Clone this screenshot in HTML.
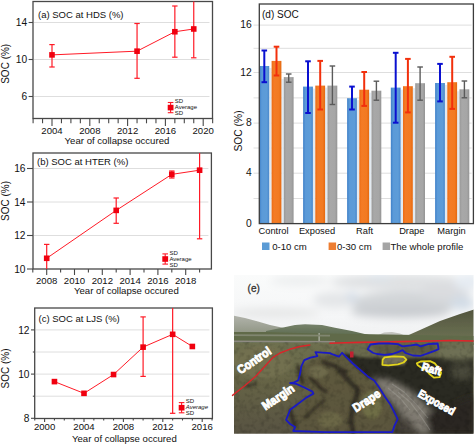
<!DOCTYPE html>
<html><head><meta charset="utf-8"><style>
html,body{margin:0;padding:0;background:#fff;}
svg{display:block;}
text{font-family:"Liberation Sans",sans-serif;}
</style></head><body>
<svg width="475" height="444" viewBox="0 0 475 444" font-family="Liberation Sans, sans-serif">
<rect width="475" height="444" fill="#fff"/>
<line x1="34.00" y1="22.50" x2="209.50" y2="22.50" stroke="#dedede" stroke-width="1" />
<line x1="34.00" y1="59.50" x2="209.50" y2="59.50" stroke="#dedede" stroke-width="1" />
<line x1="34.00" y1="96.50" x2="209.50" y2="96.50" stroke="#dedede" stroke-width="1" />
<rect x="33.00" y="1.50" width="179.50" height="117.00" fill="none" stroke="#484848" stroke-width="1.3"/>
<line x1="28.60" y1="22.50" x2="33.00" y2="22.50" stroke="#484848" stroke-width="1.1" />
<line x1="28.60" y1="59.50" x2="33.00" y2="59.50" stroke="#484848" stroke-width="1.1" />
<line x1="28.60" y1="96.50" x2="33.00" y2="96.50" stroke="#484848" stroke-width="1.1" />
<text x="27.10" y="26.10" font-size="10.2" text-anchor="end" fill="#111" >14</text>
<text x="27.10" y="63.10" font-size="10.2" text-anchor="end" fill="#111" >10</text>
<text x="27.10" y="100.10" font-size="10.2" text-anchor="end" fill="#111" >6</text>
<line x1="52.00" y1="118.50" x2="52.00" y2="126.00" stroke="#484848" stroke-width="1.1" />
<line x1="89.80" y1="118.50" x2="89.80" y2="126.00" stroke="#484848" stroke-width="1.1" />
<line x1="127.60" y1="118.50" x2="127.60" y2="126.00" stroke="#484848" stroke-width="1.1" />
<line x1="165.40" y1="118.50" x2="165.40" y2="126.00" stroke="#484848" stroke-width="1.1" />
<line x1="203.20" y1="118.50" x2="203.20" y2="126.00" stroke="#484848" stroke-width="1.1" />
<line x1="33.10" y1="118.50" x2="33.10" y2="123.30" stroke="#484848" stroke-width="1.1" />
<line x1="42.55" y1="118.50" x2="42.55" y2="123.30" stroke="#484848" stroke-width="1.1" />
<line x1="61.45" y1="118.50" x2="61.45" y2="123.30" stroke="#484848" stroke-width="1.1" />
<line x1="70.90" y1="118.50" x2="70.90" y2="123.30" stroke="#484848" stroke-width="1.1" />
<line x1="80.35" y1="118.50" x2="80.35" y2="123.30" stroke="#484848" stroke-width="1.1" />
<line x1="99.25" y1="118.50" x2="99.25" y2="123.30" stroke="#484848" stroke-width="1.1" />
<line x1="108.70" y1="118.50" x2="108.70" y2="123.30" stroke="#484848" stroke-width="1.1" />
<line x1="118.15" y1="118.50" x2="118.15" y2="123.30" stroke="#484848" stroke-width="1.1" />
<line x1="137.05" y1="118.50" x2="137.05" y2="123.30" stroke="#484848" stroke-width="1.1" />
<line x1="146.50" y1="118.50" x2="146.50" y2="123.30" stroke="#484848" stroke-width="1.1" />
<line x1="155.95" y1="118.50" x2="155.95" y2="123.30" stroke="#484848" stroke-width="1.1" />
<line x1="174.85" y1="118.50" x2="174.85" y2="123.30" stroke="#484848" stroke-width="1.1" />
<line x1="184.30" y1="118.50" x2="184.30" y2="123.30" stroke="#484848" stroke-width="1.1" />
<line x1="193.75" y1="118.50" x2="193.75" y2="123.30" stroke="#484848" stroke-width="1.1" />
<line x1="212.65" y1="118.50" x2="212.65" y2="123.30" stroke="#484848" stroke-width="1.1" />
<text x="52.00" y="133.80" font-size="9.6" text-anchor="middle" fill="#111" >2004</text>
<text x="89.80" y="133.80" font-size="9.6" text-anchor="middle" fill="#111" >2008</text>
<text x="127.60" y="133.80" font-size="9.6" text-anchor="middle" fill="#111" >2012</text>
<text x="165.40" y="133.80" font-size="9.6" text-anchor="middle" fill="#111" >2016</text>
<text x="203.20" y="133.80" font-size="9.6" text-anchor="middle" fill="#111" >2020</text>
<polyline points="52.00,54.88 137.05,51.17 174.85,31.75 193.75,28.97" fill="none" stroke="#ff1a26" stroke-width="1"/>
<line x1="52.00" y1="44.60" x2="52.00" y2="67.00" stroke="#ff1a26" stroke-width="1.2" />
<line x1="49.30" y1="44.60" x2="54.70" y2="44.60" stroke="#ff1a26" stroke-width="1.2" />
<line x1="49.30" y1="67.00" x2="54.70" y2="67.00" stroke="#ff1a26" stroke-width="1.2" />
<line x1="137.05" y1="23.50" x2="137.05" y2="78.30" stroke="#ff1a26" stroke-width="1.2" />
<line x1="134.35" y1="23.50" x2="139.75" y2="23.50" stroke="#ff1a26" stroke-width="1.2" />
<line x1="134.35" y1="78.30" x2="139.75" y2="78.30" stroke="#ff1a26" stroke-width="1.2" />
<line x1="174.85" y1="6.00" x2="174.85" y2="57.20" stroke="#ff1a26" stroke-width="1.2" />
<line x1="172.15" y1="6.00" x2="177.55" y2="6.00" stroke="#ff1a26" stroke-width="1.2" />
<line x1="172.15" y1="57.20" x2="177.55" y2="57.20" stroke="#ff1a26" stroke-width="1.2" />
<line x1="193.75" y1="1.50" x2="193.75" y2="57.80" stroke="#ff1a26" stroke-width="1.2" />
<line x1="191.05" y1="57.80" x2="196.45" y2="57.80" stroke="#ff1a26" stroke-width="1.2" />
<rect x="49.20" y="52.08" width="5.6" height="5.6" fill="#f0000f"/>
<rect x="134.25" y="48.38" width="5.6" height="5.6" fill="#f0000f"/>
<rect x="172.05" y="28.95" width="5.6" height="5.6" fill="#f0000f"/>
<rect x="190.95" y="26.17" width="5.6" height="5.6" fill="#f0000f"/>
<text x="38.00" y="17.50" font-size="9.5" text-anchor="start" fill="#111" >(a) SOC at HDS (%)</text>
<line x1="170.60" y1="102.50" x2="170.60" y2="112.70" stroke="#ff1a26" stroke-width="1.1" />
<line x1="167.80" y1="102.50" x2="173.40" y2="102.50" stroke="#ff1a26" stroke-width="1.1" />
<line x1="167.80" y1="112.70" x2="173.40" y2="112.70" stroke="#ff1a26" stroke-width="1.1" />
<rect x="167.70" y="104.80" width="5.8" height="5.6" fill="#f0000f"/>
<text x="174.80" y="103.20" font-size="6" text-anchor="start" fill="#111" >SD</text>
<text x="174.80" y="109.30" font-size="6" text-anchor="start" fill="#111" >Average</text>
<text x="174.80" y="115.20" font-size="6" text-anchor="start" fill="#111" >SD</text>
<text x="0" y="0" font-size="10" text-anchor="middle" fill="#111" transform="translate(9.20,63.80) rotate(-90)">SOC (%)</text>
<text x="64.60" y="144.00" font-size="9.6" text-anchor="start" fill="#111" >Year of collapse occured</text>
<line x1="34.00" y1="168.50" x2="208.40" y2="168.50" stroke="#dedede" stroke-width="1" />
<line x1="34.00" y1="202.00" x2="208.40" y2="202.00" stroke="#dedede" stroke-width="1" />
<line x1="34.00" y1="235.50" x2="208.40" y2="235.50" stroke="#dedede" stroke-width="1" />
<rect x="33.00" y="153.00" width="178.40" height="116.00" fill="none" stroke="#484848" stroke-width="1.3"/>
<line x1="27.00" y1="168.50" x2="33.00" y2="168.50" stroke="#484848" stroke-width="1.1" />
<line x1="27.00" y1="202.00" x2="33.00" y2="202.00" stroke="#484848" stroke-width="1.1" />
<line x1="27.00" y1="235.50" x2="33.00" y2="235.50" stroke="#484848" stroke-width="1.1" />
<line x1="27.00" y1="269.00" x2="33.00" y2="269.00" stroke="#484848" stroke-width="1.1" />
<text x="25.50" y="172.10" font-size="10.2" text-anchor="end" fill="#111" >16</text>
<text x="25.50" y="205.60" font-size="10.2" text-anchor="end" fill="#111" >14</text>
<text x="25.50" y="239.10" font-size="10.2" text-anchor="end" fill="#111" >12</text>
<text x="25.50" y="272.60" font-size="10.2" text-anchor="end" fill="#111" >10</text>
<line x1="46.70" y1="269.00" x2="46.70" y2="275.00" stroke="#484848" stroke-width="1.1" />
<line x1="74.50" y1="269.00" x2="74.50" y2="275.00" stroke="#484848" stroke-width="1.1" />
<line x1="102.30" y1="269.00" x2="102.30" y2="275.00" stroke="#484848" stroke-width="1.1" />
<line x1="130.10" y1="269.00" x2="130.10" y2="275.00" stroke="#484848" stroke-width="1.1" />
<line x1="157.90" y1="269.00" x2="157.90" y2="275.00" stroke="#484848" stroke-width="1.1" />
<line x1="185.70" y1="269.00" x2="185.70" y2="275.00" stroke="#484848" stroke-width="1.1" />
<line x1="32.80" y1="269.00" x2="32.80" y2="272.40" stroke="#484848" stroke-width="1.1" />
<line x1="60.60" y1="269.00" x2="60.60" y2="272.40" stroke="#484848" stroke-width="1.1" />
<line x1="88.40" y1="269.00" x2="88.40" y2="272.40" stroke="#484848" stroke-width="1.1" />
<line x1="116.20" y1="269.00" x2="116.20" y2="272.40" stroke="#484848" stroke-width="1.1" />
<line x1="144.00" y1="269.00" x2="144.00" y2="272.40" stroke="#484848" stroke-width="1.1" />
<line x1="171.80" y1="269.00" x2="171.80" y2="272.40" stroke="#484848" stroke-width="1.1" />
<line x1="199.60" y1="269.00" x2="199.60" y2="272.40" stroke="#484848" stroke-width="1.1" />
<text x="46.70" y="284.30" font-size="9.6" text-anchor="middle" fill="#111" >2008</text>
<text x="74.50" y="284.30" font-size="9.6" text-anchor="middle" fill="#111" >2010</text>
<text x="102.30" y="284.30" font-size="9.6" text-anchor="middle" fill="#111" >2012</text>
<text x="130.10" y="284.30" font-size="9.6" text-anchor="middle" fill="#111" >2014</text>
<text x="157.90" y="284.30" font-size="9.6" text-anchor="middle" fill="#111" >2016</text>
<text x="185.70" y="284.30" font-size="9.6" text-anchor="middle" fill="#111" >2018</text>
<polyline points="46.70,258.28 116.20,210.38 171.80,174.36 199.60,170.18" fill="none" stroke="#ff1a26" stroke-width="1"/>
<line x1="46.70" y1="244.40" x2="46.70" y2="269.00" stroke="#ff1a26" stroke-width="1.2" />
<line x1="44.00" y1="244.40" x2="49.40" y2="244.40" stroke="#ff1a26" stroke-width="1.2" />
<line x1="116.20" y1="198.00" x2="116.20" y2="223.30" stroke="#ff1a26" stroke-width="1.2" />
<line x1="113.50" y1="198.00" x2="118.90" y2="198.00" stroke="#ff1a26" stroke-width="1.2" />
<line x1="113.50" y1="223.30" x2="118.90" y2="223.30" stroke="#ff1a26" stroke-width="1.2" />
<line x1="171.80" y1="171.00" x2="171.80" y2="178.00" stroke="#ff1a26" stroke-width="1.2" />
<line x1="169.10" y1="171.00" x2="174.50" y2="171.00" stroke="#ff1a26" stroke-width="1.2" />
<line x1="169.10" y1="178.00" x2="174.50" y2="178.00" stroke="#ff1a26" stroke-width="1.2" />
<line x1="199.60" y1="153.00" x2="199.60" y2="238.80" stroke="#ff1a26" stroke-width="1.2" />
<line x1="196.90" y1="238.80" x2="202.30" y2="238.80" stroke="#ff1a26" stroke-width="1.2" />
<rect x="43.90" y="255.48" width="5.6" height="5.6" fill="#f0000f"/>
<rect x="113.40" y="207.57" width="5.6" height="5.6" fill="#f0000f"/>
<rect x="169.00" y="171.56" width="5.6" height="5.6" fill="#f0000f"/>
<rect x="196.80" y="167.38" width="5.6" height="5.6" fill="#f0000f"/>
<text x="37.00" y="165.00" font-size="9.5" text-anchor="start" fill="#111" >(b) SOC at HTER (%)</text>
<line x1="165.20" y1="253.90" x2="165.20" y2="264.10" stroke="#ff1a26" stroke-width="1.1" />
<line x1="162.40" y1="253.90" x2="168.00" y2="253.90" stroke="#ff1a26" stroke-width="1.1" />
<line x1="162.40" y1="264.10" x2="168.00" y2="264.10" stroke="#ff1a26" stroke-width="1.1" />
<rect x="162.30" y="256.20" width="5.8" height="5.6" fill="#f0000f"/>
<text x="169.40" y="254.60" font-size="6" text-anchor="start" fill="#111" >SD</text>
<text x="169.40" y="260.70" font-size="6" text-anchor="start" fill="#111" >Average</text>
<text x="169.40" y="266.60" font-size="6" text-anchor="start" fill="#111" >SD</text>
<text x="0" y="0" font-size="10" text-anchor="middle" fill="#111" transform="translate(9.20,201.00) rotate(-90)">SOC (%)</text>
<text x="74.00" y="294.00" font-size="9.6" text-anchor="start" fill="#111" >Year of collapse occured</text>
<line x1="35.70" y1="329.90" x2="209.40" y2="329.90" stroke="#dedede" stroke-width="1" />
<line x1="35.70" y1="352.00" x2="209.40" y2="352.00" stroke="#dedede" stroke-width="1" />
<line x1="35.70" y1="374.10" x2="209.40" y2="374.10" stroke="#dedede" stroke-width="1" />
<line x1="35.70" y1="396.20" x2="209.40" y2="396.20" stroke="#dedede" stroke-width="1" />
<rect x="34.70" y="308.00" width="177.70" height="110.50" fill="none" stroke="#484848" stroke-width="1.3"/>
<line x1="31.00" y1="329.90" x2="34.70" y2="329.90" stroke="#484848" stroke-width="1.1" />
<line x1="31.00" y1="374.10" x2="34.70" y2="374.10" stroke="#484848" stroke-width="1.1" />
<line x1="31.00" y1="418.30" x2="34.70" y2="418.30" stroke="#484848" stroke-width="1.1" />
<line x1="32.85" y1="352.00" x2="34.70" y2="352.00" stroke="#484848" stroke-width="1.1" />
<line x1="32.85" y1="396.20" x2="34.70" y2="396.20" stroke="#484848" stroke-width="1.1" />
<text x="29.50" y="333.50" font-size="10.2" text-anchor="end" fill="#111" >12</text>
<text x="29.50" y="377.70" font-size="10.2" text-anchor="end" fill="#111" >10</text>
<text x="29.50" y="421.90" font-size="10.2" text-anchor="end" fill="#111" >8</text>
<line x1="44.60" y1="418.50" x2="44.60" y2="422.00" stroke="#484848" stroke-width="1.1" />
<line x1="84.00" y1="418.50" x2="84.00" y2="422.00" stroke="#484848" stroke-width="1.1" />
<line x1="123.40" y1="418.50" x2="123.40" y2="422.00" stroke="#484848" stroke-width="1.1" />
<line x1="162.80" y1="418.50" x2="162.80" y2="422.00" stroke="#484848" stroke-width="1.1" />
<line x1="202.20" y1="418.50" x2="202.20" y2="422.00" stroke="#484848" stroke-width="1.1" />
<line x1="34.75" y1="418.50" x2="34.75" y2="420.50" stroke="#484848" stroke-width="1.1" />
<line x1="54.45" y1="418.50" x2="54.45" y2="420.50" stroke="#484848" stroke-width="1.1" />
<line x1="64.30" y1="418.50" x2="64.30" y2="420.50" stroke="#484848" stroke-width="1.1" />
<line x1="74.15" y1="418.50" x2="74.15" y2="420.50" stroke="#484848" stroke-width="1.1" />
<line x1="93.85" y1="418.50" x2="93.85" y2="420.50" stroke="#484848" stroke-width="1.1" />
<line x1="103.70" y1="418.50" x2="103.70" y2="420.50" stroke="#484848" stroke-width="1.1" />
<line x1="113.55" y1="418.50" x2="113.55" y2="420.50" stroke="#484848" stroke-width="1.1" />
<line x1="133.25" y1="418.50" x2="133.25" y2="420.50" stroke="#484848" stroke-width="1.1" />
<line x1="143.10" y1="418.50" x2="143.10" y2="420.50" stroke="#484848" stroke-width="1.1" />
<line x1="152.95" y1="418.50" x2="152.95" y2="420.50" stroke="#484848" stroke-width="1.1" />
<line x1="172.65" y1="418.50" x2="172.65" y2="420.50" stroke="#484848" stroke-width="1.1" />
<line x1="182.50" y1="418.50" x2="182.50" y2="420.50" stroke="#484848" stroke-width="1.1" />
<line x1="192.35" y1="418.50" x2="192.35" y2="420.50" stroke="#484848" stroke-width="1.1" />
<line x1="212.05" y1="418.50" x2="212.05" y2="420.50" stroke="#484848" stroke-width="1.1" />
<text x="44.60" y="430.40" font-size="9.6" text-anchor="middle" fill="#111" >2000</text>
<text x="84.00" y="430.40" font-size="9.6" text-anchor="middle" fill="#111" >2004</text>
<text x="123.40" y="430.40" font-size="9.6" text-anchor="middle" fill="#111" >2008</text>
<text x="162.80" y="430.40" font-size="9.6" text-anchor="middle" fill="#111" >2012</text>
<text x="202.20" y="430.40" font-size="9.6" text-anchor="middle" fill="#111" >2016</text>
<polyline points="54.45,381.61 84.00,393.33 113.55,374.54 143.10,347.14 172.65,334.32 192.35,346.48" fill="none" stroke="#ff1a26" stroke-width="1"/>
<line x1="143.10" y1="316.90" x2="143.10" y2="376.40" stroke="#ff1a26" stroke-width="1.2" />
<line x1="140.40" y1="316.90" x2="145.80" y2="316.90" stroke="#ff1a26" stroke-width="1.2" />
<line x1="140.40" y1="376.40" x2="145.80" y2="376.40" stroke="#ff1a26" stroke-width="1.2" />
<line x1="172.65" y1="308.00" x2="172.65" y2="413.30" stroke="#ff1a26" stroke-width="1.2" />
<line x1="169.95" y1="413.30" x2="175.35" y2="413.30" stroke="#ff1a26" stroke-width="1.2" />
<rect x="51.65" y="378.81" width="5.6" height="5.6" fill="#f0000f"/>
<rect x="81.20" y="390.53" width="5.6" height="5.6" fill="#f0000f"/>
<rect x="110.75" y="371.74" width="5.6" height="5.6" fill="#f0000f"/>
<rect x="140.30" y="344.34" width="5.6" height="5.6" fill="#f0000f"/>
<rect x="169.85" y="331.52" width="5.6" height="5.6" fill="#f0000f"/>
<rect x="189.55" y="343.68" width="5.6" height="5.6" fill="#f0000f"/>
<text x="38.50" y="322.00" font-size="9.5" text-anchor="start" fill="#111" >(c) SOC at LJS (%)</text>
<line x1="181.60" y1="402.60" x2="181.60" y2="412.80" stroke="#ff1a26" stroke-width="1.1" />
<line x1="178.80" y1="402.60" x2="184.40" y2="402.60" stroke="#ff1a26" stroke-width="1.1" />
<line x1="178.80" y1="412.80" x2="184.40" y2="412.80" stroke="#ff1a26" stroke-width="1.1" />
<rect x="178.70" y="404.90" width="5.8" height="5.6" fill="#f0000f"/>
<text x="185.80" y="403.30" font-size="6" text-anchor="start" fill="#111" >SD</text>
<text x="185.80" y="409.40" font-size="6" text-anchor="start" fill="#111" font-style="italic">Average</text>
<text x="185.80" y="415.30" font-size="6" text-anchor="start" fill="#111" >SD</text>
<text x="0" y="0" font-size="10" text-anchor="middle" fill="#111" transform="translate(9.20,368.50) rotate(-90)">SOC (%)</text>
<text x="72.00" y="441.80" font-size="9.6" text-anchor="start" fill="#111" >Year of collapse occured</text>
<line x1="253.50" y1="25.10" x2="471.60" y2="25.10" stroke="#dedede" stroke-width="1" />
<line x1="253.50" y1="48.30" x2="471.60" y2="48.30" stroke="#dedede" stroke-width="1" />
<line x1="253.50" y1="72.50" x2="471.60" y2="72.50" stroke="#dedede" stroke-width="1" />
<line x1="253.50" y1="97.90" x2="471.60" y2="97.90" stroke="#dedede" stroke-width="1" />
<line x1="253.50" y1="123.10" x2="471.60" y2="123.10" stroke="#dedede" stroke-width="1" />
<line x1="253.50" y1="148.00" x2="471.60" y2="148.00" stroke="#dedede" stroke-width="1" />
<line x1="253.50" y1="173.20" x2="471.60" y2="173.20" stroke="#dedede" stroke-width="1" />
<line x1="253.50" y1="198.50" x2="471.60" y2="198.50" stroke="#dedede" stroke-width="1" />
<text x="251.80" y="28.10" font-size="10.3" text-anchor="end" fill="#111" >16</text>
<text x="251.80" y="75.50" font-size="10.3" text-anchor="end" fill="#111" >12</text>
<text x="251.80" y="126.10" font-size="10.3" text-anchor="end" fill="#111" >8</text>
<text x="251.80" y="176.20" font-size="10.3" text-anchor="end" fill="#111" >4</text>
<text x="251.80" y="226.60" font-size="10.3" text-anchor="end" fill="#111" >0</text>
<defs><linearGradient id="gb" x1="0" x2="1" y1="0" y2="0"><stop offset="0" stop-color="#3f80c8"/><stop offset="0.25" stop-color="#5b9ad8"/><stop offset="0.75" stop-color="#5d9cd8"/><stop offset="1" stop-color="#4a88cc"/></linearGradient><linearGradient id="go" x1="0" x2="1" y1="0" y2="0"><stop offset="0" stop-color="#ec6c14"/><stop offset="0.25" stop-color="#f47c26"/><stop offset="0.75" stop-color="#f27a22"/><stop offset="1" stop-color="#e46810"/></linearGradient><linearGradient id="gg" x1="0" x2="1" y1="0" y2="0"><stop offset="0" stop-color="#989898"/><stop offset="0.25" stop-color="#a8a8a8"/><stop offset="0.75" stop-color="#a6a6a6"/><stop offset="1" stop-color="#949494"/></linearGradient></defs>
<rect x="269.20" y="68.00" width="2.4" height="155.60" fill="#e2eaf1"/>
<rect x="281.40" y="79.10" width="2.4" height="144.50" fill="#e2eaf1"/>
<rect x="259.40" y="66.00" width="9.8" height="157.60" fill="url(#gb)"/>
<rect x="271.60" y="60.90" width="9.8" height="162.70" fill="url(#go)"/>
<rect x="283.80" y="77.10" width="9.8" height="146.50" fill="url(#gg)"/>
<rect x="312.90" y="88.60" width="2.4" height="135.00" fill="#e2eaf1"/>
<rect x="325.10" y="87.60" width="2.4" height="136.00" fill="#e2eaf1"/>
<rect x="303.10" y="86.60" width="9.8" height="137.00" fill="url(#gb)"/>
<rect x="315.30" y="85.60" width="9.8" height="138.00" fill="url(#go)"/>
<rect x="327.50" y="85.60" width="9.8" height="138.00" fill="url(#gg)"/>
<rect x="356.90" y="100.20" width="2.4" height="123.40" fill="#e2eaf1"/>
<rect x="369.10" y="92.70" width="2.4" height="130.90" fill="#e2eaf1"/>
<rect x="347.10" y="98.20" width="9.8" height="125.40" fill="url(#gb)"/>
<rect x="359.30" y="89.70" width="9.8" height="133.90" fill="url(#go)"/>
<rect x="371.50" y="90.70" width="9.8" height="132.90" fill="url(#gg)"/>
<rect x="400.60" y="89.60" width="2.4" height="134.00" fill="#e2eaf1"/>
<rect x="412.80" y="88.20" width="2.4" height="135.40" fill="#e2eaf1"/>
<rect x="390.80" y="87.60" width="9.8" height="136.00" fill="url(#gb)"/>
<rect x="403.00" y="86.20" width="9.8" height="137.40" fill="url(#go)"/>
<rect x="415.20" y="83.20" width="9.8" height="140.40" fill="url(#gg)"/>
<rect x="444.90" y="85.00" width="2.4" height="138.60" fill="#e2eaf1"/>
<rect x="457.10" y="91.30" width="2.4" height="132.30" fill="#e2eaf1"/>
<rect x="435.10" y="83.00" width="9.8" height="140.60" fill="url(#gb)"/>
<rect x="447.30" y="82.20" width="9.8" height="141.40" fill="url(#go)"/>
<rect x="459.50" y="89.30" width="9.8" height="134.30" fill="url(#gg)"/>
<line x1="264.30" y1="50.50" x2="264.30" y2="82.20" stroke="#0a10d0" stroke-width="2" />
<line x1="261.50" y1="50.50" x2="267.10" y2="50.50" stroke="#0a10d0" stroke-width="2" />
<line x1="261.50" y1="82.20" x2="267.10" y2="82.20" stroke="#0a10d0" stroke-width="2" />
<line x1="276.50" y1="46.70" x2="276.50" y2="75.50" stroke="#f2300c" stroke-width="2" />
<line x1="273.70" y1="46.70" x2="279.30" y2="46.70" stroke="#f2300c" stroke-width="2" />
<line x1="273.70" y1="75.50" x2="279.30" y2="75.50" stroke="#f2300c" stroke-width="2" />
<line x1="288.70" y1="74.00" x2="288.70" y2="82.20" stroke="#5a5a5a" stroke-width="1.4" />
<line x1="285.90" y1="74.00" x2="291.50" y2="74.00" stroke="#5a5a5a" stroke-width="1.4" />
<line x1="285.90" y1="82.20" x2="291.50" y2="82.20" stroke="#5a5a5a" stroke-width="1.4" />
<line x1="308.00" y1="61.30" x2="308.00" y2="113.00" stroke="#0a10d0" stroke-width="2" />
<line x1="305.20" y1="61.30" x2="310.80" y2="61.30" stroke="#0a10d0" stroke-width="2" />
<line x1="305.20" y1="113.00" x2="310.80" y2="113.00" stroke="#0a10d0" stroke-width="2" />
<line x1="320.20" y1="60.90" x2="320.20" y2="109.50" stroke="#f2300c" stroke-width="2" />
<line x1="317.40" y1="60.90" x2="323.00" y2="60.90" stroke="#f2300c" stroke-width="2" />
<line x1="317.40" y1="109.50" x2="323.00" y2="109.50" stroke="#f2300c" stroke-width="2" />
<line x1="332.40" y1="66.00" x2="332.40" y2="104.50" stroke="#5a5a5a" stroke-width="1.4" />
<line x1="329.60" y1="66.00" x2="335.20" y2="66.00" stroke="#5a5a5a" stroke-width="1.4" />
<line x1="329.60" y1="104.50" x2="335.20" y2="104.50" stroke="#5a5a5a" stroke-width="1.4" />
<line x1="352.00" y1="86.60" x2="352.00" y2="109.50" stroke="#0a10d0" stroke-width="2" />
<line x1="349.20" y1="86.60" x2="354.80" y2="86.60" stroke="#0a10d0" stroke-width="2" />
<line x1="349.20" y1="109.50" x2="354.80" y2="109.50" stroke="#0a10d0" stroke-width="2" />
<line x1="364.20" y1="72.00" x2="364.20" y2="105.90" stroke="#f2300c" stroke-width="2" />
<line x1="361.40" y1="72.00" x2="367.00" y2="72.00" stroke="#f2300c" stroke-width="2" />
<line x1="361.40" y1="105.90" x2="367.00" y2="105.90" stroke="#f2300c" stroke-width="2" />
<line x1="376.40" y1="81.20" x2="376.40" y2="100.20" stroke="#5a5a5a" stroke-width="1.4" />
<line x1="373.60" y1="81.20" x2="379.20" y2="81.20" stroke="#5a5a5a" stroke-width="1.4" />
<line x1="373.60" y1="100.20" x2="379.20" y2="100.20" stroke="#5a5a5a" stroke-width="1.4" />
<line x1="395.70" y1="52.80" x2="395.70" y2="122.70" stroke="#0a10d0" stroke-width="2" />
<line x1="392.90" y1="52.80" x2="398.50" y2="52.80" stroke="#0a10d0" stroke-width="2" />
<line x1="392.90" y1="122.70" x2="398.50" y2="122.70" stroke="#0a10d0" stroke-width="2" />
<line x1="407.90" y1="58.90" x2="407.90" y2="112.40" stroke="#f2300c" stroke-width="2" />
<line x1="405.10" y1="58.90" x2="410.70" y2="58.90" stroke="#f2300c" stroke-width="2" />
<line x1="405.10" y1="112.40" x2="410.70" y2="112.40" stroke="#f2300c" stroke-width="2" />
<line x1="420.10" y1="67.00" x2="420.10" y2="100.20" stroke="#5a5a5a" stroke-width="1.4" />
<line x1="417.30" y1="67.00" x2="422.90" y2="67.00" stroke="#5a5a5a" stroke-width="1.4" />
<line x1="417.30" y1="100.20" x2="422.90" y2="100.20" stroke="#5a5a5a" stroke-width="1.4" />
<line x1="440.00" y1="63.90" x2="440.00" y2="101.40" stroke="#0a10d0" stroke-width="2" />
<line x1="437.20" y1="63.90" x2="442.80" y2="63.90" stroke="#0a10d0" stroke-width="2" />
<line x1="437.20" y1="101.40" x2="442.80" y2="101.40" stroke="#0a10d0" stroke-width="2" />
<line x1="452.20" y1="56.80" x2="452.20" y2="108.90" stroke="#f2300c" stroke-width="2" />
<line x1="449.40" y1="56.80" x2="455.00" y2="56.80" stroke="#f2300c" stroke-width="2" />
<line x1="449.40" y1="108.90" x2="455.00" y2="108.90" stroke="#f2300c" stroke-width="2" />
<line x1="464.40" y1="81.00" x2="464.40" y2="97.80" stroke="#5a5a5a" stroke-width="1.4" />
<line x1="461.60" y1="81.00" x2="467.20" y2="81.00" stroke="#5a5a5a" stroke-width="1.4" />
<line x1="461.60" y1="97.80" x2="467.20" y2="97.80" stroke="#5a5a5a" stroke-width="1.4" />
<rect x="259.3" y="4" width="214.1" height="219.6" fill="none" stroke="#3c3c3c" stroke-width="1.3"/>
<text x="262.00" y="18.40" font-size="10" text-anchor="start" fill="#111" >(d) SOC</text>
<text x="0" y="0" font-size="10.3" text-anchor="middle" fill="#111" transform="translate(242.3,131) rotate(-90)">SOC (%)</text>
<text x="273.50" y="234.00" font-size="9.3" text-anchor="middle" fill="#111" >Control</text>
<text x="317.00" y="234.00" font-size="9.3" text-anchor="middle" fill="#111" >Exposed</text>
<text x="364.60" y="234.00" font-size="9.3" text-anchor="middle" fill="#111" >Raft</text>
<text x="411.80" y="234.00" font-size="9.3" text-anchor="middle" fill="#111" >Drape</text>
<text x="451.50" y="234.00" font-size="9.3" text-anchor="middle" fill="#111" >Margin</text>
<rect x="262" y="242.5" width="7.5" height="7.5" fill="#5b9bd5"/>
<text x="272.20" y="250.20" font-size="9.6" text-anchor="start" fill="#111" >0-10 cm</text>
<rect x="328.6" y="242.5" width="7.5" height="7.5" fill="#ed7d31"/>
<text x="337.00" y="250.20" font-size="9.6" text-anchor="start" fill="#111" >0-30 cm</text>
<rect x="382.6" y="242.5" width="7.5" height="7.5" fill="#a5a5a5"/>
<text x="390.40" y="250.20" font-size="9.6" text-anchor="start" fill="#111" >The whole profile</text>
<defs>
<clipPath id="pc"><rect x="234" y="275" width="239.5" height="158.8"/></clipPath>
<filter id="b2" x="-20%" y="-20%" width="140%" height="140%"><feGaussianBlur stdDeviation="1.8"/></filter>
<filter id="b3" x="-30%" y="-30%" width="160%" height="160%"><feGaussianBlur stdDeviation="3"/></filter>
<filter id="b4" x="-30%" y="-30%" width="160%" height="160%"><feGaussianBlur stdDeviation="4.5"/></filter>
<filter id="b1" x="-20%" y="-20%" width="140%" height="140%"><feGaussianBlur stdDeviation="0.7"/></filter>
<filter id="tex" x="0" y="0" width="100%" height="100%">
<feTurbulence type="fractalNoise" baseFrequency="0.2" numOctaves="2" seed="7" result="n"/>
<feColorMatrix in="n" type="matrix" values="0 0 0 0 0  0 0 0 0 0  0 0 0 0 0  0 0 0 -2.4 1.3" result="a"/>
<feComposite in="a" in2="SourceGraphic" operator="in"/>
</filter>
<linearGradient id="sky" x1="0" y1="0" x2="0" y2="1">
<stop offset="0" stop-color="#fafbfb"/><stop offset="0.6" stop-color="#f5f6f7"/><stop offset="1" stop-color="#eeeff0"/>
</linearGradient>
<linearGradient id="rhill" x1="0" y1="0" x2="0" y2="1">
<stop offset="0" stop-color="#52553e"/><stop offset="0.5" stop-color="#62664b"/><stop offset="1" stop-color="#6e7557"/>
</linearGradient>
<linearGradient id="mhill" x1="0" y1="0" x2="0" y2="1"><stop offset="0" stop-color="#76826a"/><stop offset="0.35" stop-color="#66735a"/><stop offset="1" stop-color="#5a6747"/></linearGradient>
<linearGradient id="gnd" x1="0" y1="0" x2="0" y2="1"><stop offset="0" stop-color="#6e704f"/><stop offset="0.4" stop-color="#666446"/><stop offset="1" stop-color="#575242"/></linearGradient>
<linearGradient id="lhill" x1="0" y1="0" x2="0" y2="1">
<stop offset="0" stop-color="#b2b4ac"/><stop offset="0.35" stop-color="#9fa396"/><stop offset="1" stop-color="#7a826a"/>
</linearGradient>
</defs>
<g clip-path="url(#pc)">
<rect x="234" y="275" width="240" height="70" fill="url(#sky)"/>
<g filter="url(#b4)">
<ellipse cx="400" cy="282" rx="70" ry="8" fill="#dfe1e3"/>
<ellipse cx="405" cy="303" rx="55" ry="12" fill="#d2d5d8"/>
<ellipse cx="400" cy="312" rx="50" ry="6" fill="#c9ccd0"/>
<ellipse cx="445" cy="292" rx="25" ry="8" fill="#dadcdf"/>
<ellipse cx="335" cy="300" rx="22" ry="8" fill="#e4e6e8"/>
<ellipse cx="462" cy="303" rx="12" ry="7" fill="#d2dce6"/>
<ellipse cx="352" cy="297" rx="6" ry="5" fill="#d4dde7"/>
<ellipse cx="380" cy="277" rx="14" ry="3" fill="#dbe3eb"/>
<ellipse cx="300" cy="281" rx="30" ry="5" fill="#eceeef"/>
<ellipse cx="275" cy="313" rx="45" ry="5" fill="#e6e7e7"/>
<ellipse cx="468" cy="282" rx="14" ry="8" fill="#e6ecf3"/>
</g>
<!-- left far hill -->
<path d="M220 315 L234 315.8 L245 318 L258 321.5 L270 325 L284 328 L300 331 L300 345 L220 345 Z" fill="url(#lhill)" filter="url(#b1)"/>
<!-- middle hill -->
<path d="M266 331 L282 327.7 L295 325 L305 324.2 L322 325 L335 327.7 L352 331 L370 335.3 L385.5 337.8 L402 339.5 L402 345 L266 345 Z" fill="url(#mhill)" filter="url(#b1)"/>
<!-- distant mountains -->
<path d="M376 336 L384 332.5 L392 332 L400 333.5 L406 336 L406 340 L376 340 Z" fill="#c2c3be" filter="url(#b1)"/>
<!-- right hill -->
<path d="M392 340.5 L402 338 L420 330 L440 321 L460 314 L474 309.5 L474 345 L392 345 Z" fill="url(#rhill)" filter="url(#b1)"/>
<!-- valley floor -->
<path d="M220 332 L268 332 L300 333 L474 336 L474 345 L220 345 Z" fill="#606b4a" filter="url(#b1)"/>
<path d="M318.6 333 L319.6 333 L319.6 341 L318.6 341 Z" fill="#c4c6c2"/>
<path d="M220 334.2 L330 334.8 L330 336.4 L220 336 Z" fill="#80866f" filter="url(#b1)"/>
<path d="M220 340.5 L335 340.9 L335 342.4 L220 342.1 Z" fill="#8e8a82" filter="url(#b1)"/>
<!-- ground base -->
<rect x="234" y="343" width="240" height="93" fill="url(#gnd)"/>
<g filter="url(#b2)">
<ellipse cx="262" cy="362" rx="30" ry="16" fill="#72704f"/>
<path d="M342 354 L360 353 L474 356 L474 434 L393 434 L397 419 L390 404 L380 388 L368 377 L352 364 Z" fill="#2c2923"/>
<path d="M345 343 L474 342 L474 354 L440 357 L400 358 L360 357 L345 352 Z" fill="#6a6b4d"/>
<path d="M370 344 L437 344 L437 354 L405 354 L380 356 Z" fill="#5b5a42"/>
<path d="M383 357 L405 357 L405 364 L383 365 Z" fill="#77735a"/>
</g>
<g filter="url(#b3)">
<path d="M372 377 L392 380 L412 391 L432 411 L450 434 L420 434 L405 418 L392 404 L380 391 Z" fill="#807b72"/>
<ellipse cx="458" cy="352" rx="22" ry="8" fill="#6e7054"/>
<ellipse cx="462" cy="372" rx="12" ry="8" fill="#4a493a"/>
<path d="M425 415 L474 395 L474 434 L430 434 Z" fill="#2a2723"/>
<path d="M396 412 L410 420 L420 434 L396 434 Z" fill="#46433a"/>
</g>
<g stroke="#b0aea8" stroke-width="1.1" fill="none" opacity="0.35" filter="url(#b1)">
<path d="M392 384 L404 392 L416 404 L428 418"/>
<path d="M398 392 L410 402 L422 418 L430 430"/>
<path d="M388 388 L400 398 L410 410"/>
</g>
<!-- drape area tint -->
<path d="M318 356 L342 354 L352 364 L368 377 L380 388 L390 404 L397 419 L393 434 L300 434 L292 420 L300 404 L312 392 L300 384 L301 366 Z" fill="#5c563e" filter="url(#b2)" opacity="0.85"/>
<!-- dark cracks -->
<g fill="none" stroke="#27241b" stroke-linecap="round" stroke-linejoin="round" filter="url(#b2)" opacity="0.75">
<path d="M339 370 L350.7 382.8 L358.3 390.4 L353.2 405.5 L350.7 420.7 L353.2 432" stroke-width="5"/>
<path d="M298 367 L302.7 382.8" stroke-width="4"/>
<path d="M310.3 377.7 L320.4 387.8 L326 392" stroke-width="3.5"/>
<path d="M290.5 410 L292 418 L295 426" stroke-width="4"/>
<path d="M323 362 L335 366 L346 372" stroke-width="4"/>
<path d="M246 386 L256 384" stroke-width="2.5"/>
<path d="M325 400 L315 408 L305 418" stroke-width="2.5"/>
<path d="M360 368 L368 376" stroke-width="3"/>
</g>
<g filter="url(#b2)" opacity="0.8">
<ellipse cx="372" cy="405" rx="10" ry="14" fill="#757548"/>
<ellipse cx="330" cy="420" rx="12" ry="8" fill="#6f6c4a"/>
<ellipse cx="318" cy="372" rx="10" ry="6" fill="#737050"/>
</g>
<rect x="234" y="342" width="240" height="92" fill="#000" filter="url(#tex)" opacity="0.16"/>
</g>
<!-- overlays -->
<g fill="none" stroke-linejoin="round" stroke-linecap="round">
<path d="M232.5 395.4 L245 385.5 L256 376 L263.5 367.8 L272.7 357.7 L280 353 L289.6 349.3 L300 346.5 L309.8 345" stroke="#d8262a" stroke-width="1.4"/>
<path d="M330 343.3 L345 342.8 L360 342.4 L380 342 L400 341.6 L430 341 L450 340.5 L473 341" stroke="#e0242a" stroke-width="1.6"/>
<path d="M330 353.1 L315.4 352.1 L317.4 356.1 L310.4 357.6 L304.3 360.2 L301.3 366.3 L300.2 373.3 L298.2 380.4 L294.2 382.4 L290.1 383.1 L296.2 383.9 L304.3 387.5 L312.4 391.6 L313.4 393.6 L306.3 397.6 L298.2 403.7 L290.1 409.8 L288.1 414.8 L286.1 419.9 L290.1 424 L295.2 427 L293.2 431 L325 432.2 L392.4 432 L394.5 425.6 L397.7 419.1 L394.5 412.7 L390.2 404.2 L384.9 396.7 L379.5 388.1 L374.2 380.6 L367.8 376.4 L360.3 370 L352.8 363.5 L346.4 357.1 L342.1 352.8 L338.9 356.7 L331.4 353.9 Z" stroke="#1a1ac4" stroke-width="1.8"/>
<path d="M367.6 349.2 L370.4 344.5 L378.9 343.5 L388.4 343.5 L397.9 344.1 L402.6 346.4 L411.2 345.4 L416.8 344.5 L420.6 346.4 L428.2 344.1 L437.7 343.5 L438.6 349.2 L433.9 351.1 L426.3 353.9 L420.6 355.8 L413 355.5 L405.5 353 L402.6 350.2 L397.9 352.1 L392.2 354 L384.6 354.9 L377.1 354 L373.3 353 Z" stroke="#1a1ac4" stroke-width="1.8"/>
<path d="M382.7 359.6 L384.6 357.4 L394.1 356.4 L403.6 356.8 L406.4 359.6 L403.6 362.5 L397.9 364.4 L388.4 365.3 L382.4 364.9 Z" stroke="#e2d41c" stroke-width="1.8"/>
<path d="M416.8 363.4 L420.6 361.5 L430.1 361.1 L434.8 363.4 L438.6 368.2 L441.1 372.9 L439.6 377.1 L433.9 377.6 L429.2 373.8 L426.3 370.1 L420.6 367.2 L417.8 365.3 Z" stroke="#e2d41c" stroke-width="1.8"/>
</g>
<path d="M350 351.5 L353.5 351.5 L353.5 357.5 L350 357.5 Z" fill="#c02030"/>
<g font-weight="bold" fill="#ffffff" stroke="#ffffff" stroke-width="0.9" font-size="12">
<text transform="translate(240.5,374.5) rotate(-34) scale(0.9,1)">Control</text>
<text transform="translate(265.5,410.5) rotate(-34) scale(0.9,1)" font-size="12.2">Margin</text>
<text transform="translate(356,412.5) rotate(-33) scale(0.9,1)">Drape</text>
<text transform="translate(421,370) rotate(16) scale(0.9,1)" font-size="11.4">Raft</text>
<text transform="translate(417.2,396) rotate(29) scale(0.86,1)" font-size="11.2">Exposed</text>
</g>
<text x="247.6" y="291.6" font-size="10" fill="#333" stroke="#333" stroke-width="0.3">(e)</text>

</svg>
</body></html>
